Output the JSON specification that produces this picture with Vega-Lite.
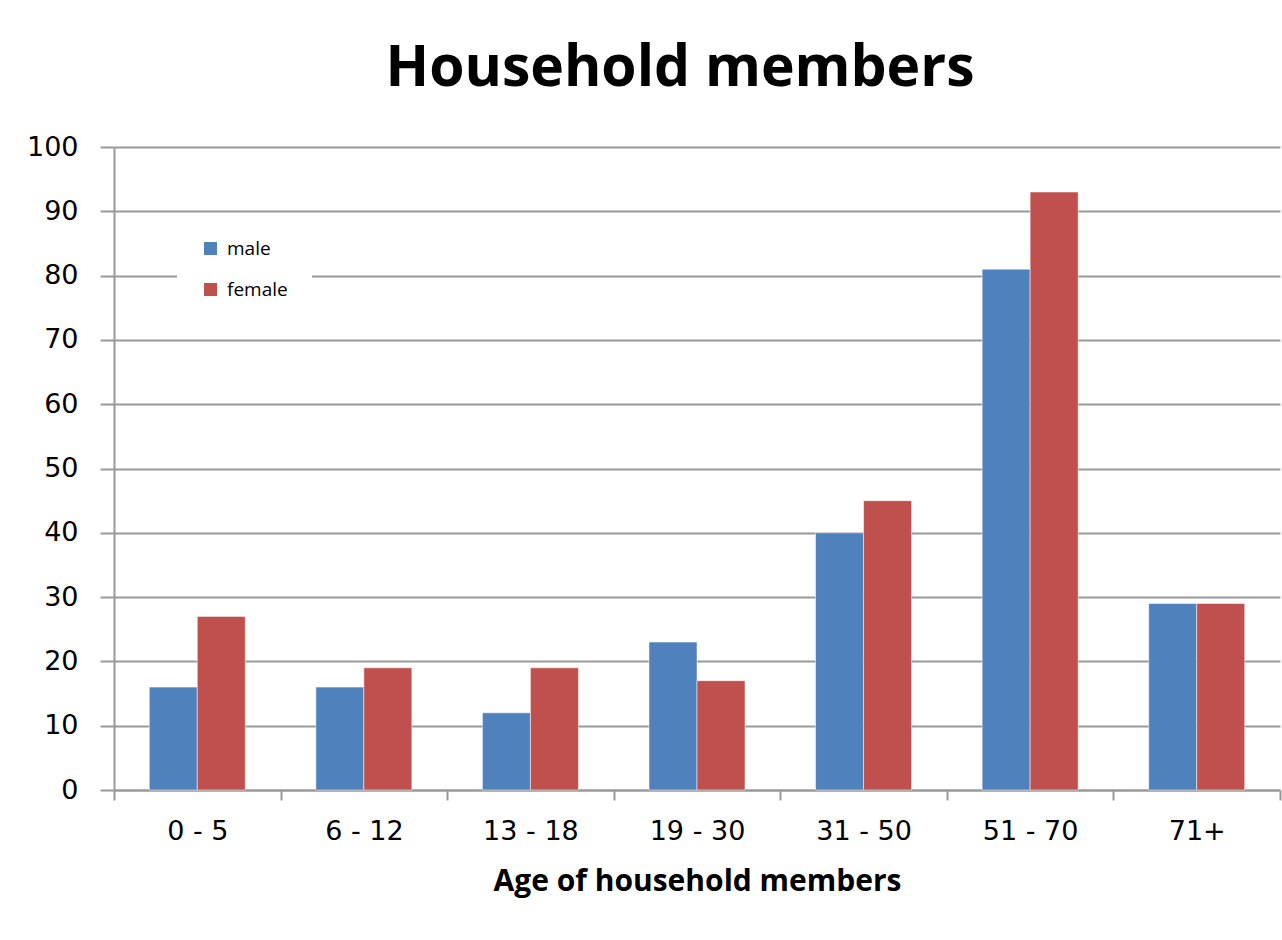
{
  "$schema": "https://vega.github.io/schema/vega-lite/v6.json",
  "width": 1166,
  "height": 643,
  "autosize": {"type": "none"},
  "padding": {"left": 114, "top": 147, "right": 2, "bottom": 150},
  "background": "white",
  "title": {
    "text": "Household members",
    "font": "Open Sans",
    "fontSize": 57,
    "fontWeight": "bold",
    "color": "#000000",
    "anchor": "middle",
    "offset": 35,
    "dx": -17
  },
  "data": {
    "values": [
      {"age": "0 - 5", "sex": "male", "value": 16},
      {"age": "0 - 5", "sex": "female", "value": 27},
      {"age": "6 - 12", "sex": "male", "value": 16},
      {"age": "6 - 12", "sex": "female", "value": 19},
      {"age": "13 - 18", "sex": "male", "value": 12},
      {"age": "13 - 18", "sex": "female", "value": 19},
      {"age": "19 - 30", "sex": "male", "value": 23},
      {"age": "19 - 30", "sex": "female", "value": 17},
      {"age": "31 - 50", "sex": "male", "value": 40},
      {"age": "31 - 50", "sex": "female", "value": 45},
      {"age": "51 - 70", "sex": "male", "value": 81},
      {"age": "51 - 70", "sex": "female", "value": 93},
      {"age": "71+", "sex": "male", "value": 29},
      {"age": "71+", "sex": "female", "value": 29}
    ]
  },
  "mark": {"type": "bar", "stroke": "#ffffff", "strokeOpacity": 0.5, "strokeWidth": 1},
  "encoding": {
    "x": {
      "field": "age",
      "type": "nominal",
      "sort": null,
      "scale": {"paddingInner": 0, "paddingOuter": 0},
      "axis": {
        "title": "Age of household members",
        "titleFont": "Open Sans",
        "titleFontSize": 30,
        "titleFontWeight": "bold",
        "titleColor": "#000000",
        "titlePadding": 22,
        "labelFont": "DejaVu Sans",
        "labelFontSize": 27,
        "labelColor": "#000000",
        "labelAngle": 0,
        "labelPadding": 18,
        "domainColor": "#999999",
        "domainWidth": 2,
        "tickColor": "#999999",
        "tickWidth": 2,
        "tickSize": 10,
        "tickBand": "extent",
        "grid": false
      }
    },
    "xOffset": {
      "field": "sex",
      "type": "nominal",
      "sort": ["male", "female"],
      "scale": {"paddingInner": 0, "paddingOuter": 0.735}
    },
    "y": {
      "field": "value",
      "type": "quantitative",
      "scale": {"domain": [0, 100], "nice": false},
      "axis": {
        "title": null,
        "values": [0, 10, 20, 30, 40, 50, 60, 70, 80, 90, 100],
        "labelFont": "DejaVu Sans",
        "labelFontSize": 27,
        "labelColor": "#000000",
        "labelPadding": 22,
        "domainColor": "#999999",
        "domainWidth": 2,
        "tickColor": "#999999",
        "tickWidth": 2,
        "tickSize": 14,
        "grid": true,
        "gridColor": "#999999",
        "gridWidth": 2
      }
    },
    "color": {
      "field": "sex",
      "type": "nominal",
      "sort": ["male", "female"],
      "scale": {"domain": ["male", "female"], "range": ["#4F81BD", "#C0504D"]},
      "legend": {
        "title": null,
        "orient": "none",
        "legendX": 63,
        "legendY": 68,
        "fillColor": "white",
        "padding": 24,
        "symbolType": "square",
        "symbolSize": 170,
        "symbolStrokeWidth": 0,
        "labelFont": "Open Sans",
        "labelFontSize": 19,
        "labelColor": "#000000",
        "rowPadding": 21,
        "labelOffset": 7
      }
    }
  },
  "config": {"view": {"stroke": null}}
}
